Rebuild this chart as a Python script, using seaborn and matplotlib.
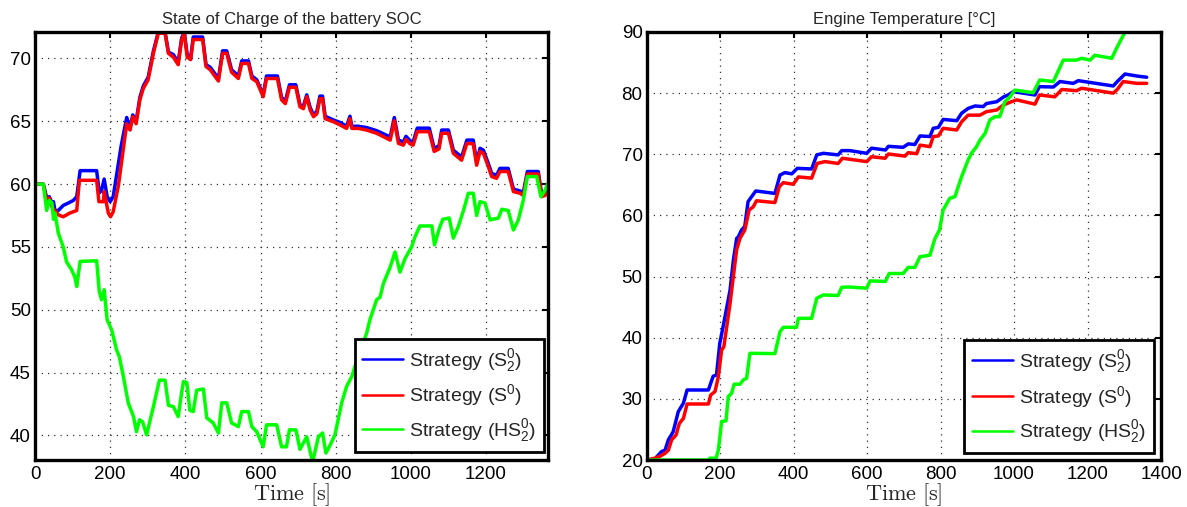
import numpy as np
import pandas as pd
import matplotlib
matplotlib.use("Agg")
import matplotlib.pyplot as plt
import seaborn as sns

# ---- State of charge data ----
soc_t_s2 = [0, 22, 31, 38, 45, 49, 53, 62, 75, 89, 102, 111, 120, 164, 171, 177, 184, 192, 200, 208, 219, 229, 244,
            253, 260, 269, 279, 288, 301, 315, 328, 346, 355, 368, 381, 390, 397, 405, 414, 421, 446, 455, 466, 488,
            499, 510, 523, 541, 550, 568, 577, 590, 607, 616, 645, 656, 666, 677, 694, 705, 714, 723, 732, 741, 750,
            758, 765, 772, 794, 812, 829, 838, 843, 860, 882, 909, 927, 945, 956, 967, 980, 987, 998, 1006, 1017,
            1049, 1062, 1075, 1082, 1100, 1113, 1135, 1149, 1166, 1175, 1184, 1193, 1206, 1215, 1228, 1237, 1259,
            1273, 1291, 1299, 1310, 1339, 1348, 1357, 1362]
soc_s2 = [60, 60, 58.9, 59.0, 58.5, 58.6, 57.9, 57.9, 58.3, 58.5, 58.7, 59.0, 61.07, 61.07, 59.3, 59.5, 60.4, 59.0,
          58.6, 59.0, 61.1, 63.0, 65.3,
          64.5, 65.5, 65.0, 66.9, 67.8, 68.5, 70.6, 72.1, 72.1, 70.5, 70.3, 69.7, 71.6, 72.1, 70.3, 70.0, 71.7, 71.7,
          69.5, 69.3, 68.4, 70.6, 70.6, 69.1, 68.6, 69.8, 69.8, 68.6, 68.3, 67.1, 68.6, 68.6, 66.9, 66.6, 67.9, 67.9,
          66.3, 66.2, 67.1, 66.1, 65.5, 65.8, 67.0, 67.0, 65.4, 65.1, 64.9, 64.6, 65.4, 64.6, 64.6, 64.5, 64.25,
          64.0, 63.75, 65.3, 63.5, 63.35, 63.8, 63.45, 63.35, 64.45, 64.45, 62.85, 63.05, 64.3, 64.3, 62.7, 62.15,
          63.5, 63.5, 61.75, 62.85, 62.7, 61.65, 60.85, 60.7, 61.25, 61.25, 59.6, 59.45, 59.3, 61.0, 61.0, 59.2,
          59.3, 59.4]

soc_t_s0 = [0, 22, 31, 38, 45, 53, 62, 75, 93, 111, 118, 164, 170, 182, 184, 195, 201, 208, 222, 231, 244,
            253, 260, 269, 279, 288, 301, 315, 328, 346, 355, 368, 381, 390, 397, 405, 414, 421, 446, 455, 466, 488,
            499, 510, 523, 541, 550, 568, 577, 590, 607, 616, 645, 656, 666, 677, 694, 705, 714, 723, 732, 741, 750,
            758, 765, 772, 794, 812, 829, 838, 843, 860, 882, 909, 927, 945, 956, 967, 980, 987, 998, 1006, 1017,
            1049, 1062, 1075, 1082, 1100, 1113, 1135, 1149, 1166, 1175, 1184, 1193, 1206, 1215, 1228, 1237, 1259,
            1273, 1291, 1299, 1310, 1339, 1348, 1357, 1362]
soc_s0 = [60, 60, 58.7, 58.9, 58.2, 57.9, 57.55, 57.4, 57.7, 57.9, 60.3, 60.3, 58.6, 58.6, 59.4, 57.7, 57.4, 57.8,
          59.9, 61.9, 64.8,
          64.3, 65.36, 64.8, 66.7, 67.6, 68.3, 70.4, 72.0, 72.0, 70.4, 70.1, 69.5, 71.45, 72.0, 70.1, 69.9, 71.5,
          71.5, 69.35, 69.1, 68.2, 70.4, 70.4, 68.9, 68.4, 69.6, 69.6, 68.4, 68.15, 66.95, 68.4, 68.4, 66.7, 66.4,
          67.7, 67.7, 66.15, 66.0, 66.95, 65.9, 65.36, 65.6, 66.8, 66.8, 65.2, 64.96, 64.7, 64.43, 65.2, 64.43,
          64.43, 64.3, 64.04, 63.77, 63.5, 65.04, 63.24, 63.1, 63.56, 63.2, 63.1, 64.17, 64.17, 62.6, 62.8, 64.04,
          64.04, 62.45, 61.9, 63.24, 63.2, 61.5, 62.6, 62.45, 61.4, 60.6, 60.46, 61.0, 61.0, 59.4, 59.27, 59.1,
          60.8, 60.8, 59.0, 59.1, 59.3]

soc_t_hs2 = [0, 22, 31, 38, 45, 49, 53, 62, 75, 84, 97, 106, 111, 120, 164, 171, 177, 184, 192, 204, 217, 224, 235,
             248, 262, 270, 278, 286, 297, 315, 331, 346, 355, 368, 381, 390, 395, 404, 412, 421, 430, 448, 457, 474,
             488, 497, 510, 523, 541, 550, 568, 577, 590, 607, 616, 643, 656, 669, 677, 694, 705, 723, 736, 740, 754,
             765, 774, 783, 798, 816, 829, 843, 862, 882, 891, 909, 918, 927, 945, 958, 971, 985, 1002, 1011, 1024,
             1056, 1063, 1076, 1085, 1102, 1113, 1126, 1140, 1153, 1166, 1175, 1184, 1197, 1211, 1233, 1242, 1259,
             1273, 1286, 1299, 1310, 1335, 1346, 1357, 1365]
soc_hs2 = [60, 60, 57.9, 58.7, 58.5, 57.2, 57.7, 56.1, 55.0, 53.8, 53.2, 52.6, 51.85, 53.85, 53.9, 51.45, 50.8, 51.6,
           49.2, 48.4, 46.8, 46.3, 44.7, 42.6, 41.5, 40.3, 41.25, 41.1, 40.05, 42.3, 44.4, 44.4, 42.4, 42.3, 41.5,
           43.4, 44.3, 44.2, 42.0, 41.9, 43.6, 43.7, 41.4, 41.0, 40.2, 42.6, 42.6, 41.0, 40.7, 41.9, 41.9, 40.7,
           40.3, 39.1, 40.85, 40.85, 39.1, 39.1, 40.45, 40.45, 38.9, 39.9, 38.2, 38.07, 39.9, 40.2, 38.6, 39.1,
           40.05, 42.6, 43.9, 44.7, 46.5, 48.1, 49.2, 50.8, 51.0, 52.1, 53.4, 54.6, 53.0, 54.1, 55.0, 55.8, 56.67,
           56.67, 55.16, 56.5, 57.2, 57.3, 55.7, 56.6, 57.9, 59.27, 59.27, 57.5, 58.6, 58.5, 57.15, 57.3, 58.0,
           57.9, 56.35, 57.15, 58.7, 60.6, 60.6, 59.0, 59.5, 60.1]

# ---- Engine temperature data ----
tmp_t_s2 = [0, 22, 27, 41, 50, 59, 72, 86, 100, 110, 168, 174, 181, 190, 199, 208, 227, 236, 245, 248, 258, 267,
            276, 286, 297, 349, 363, 376, 395, 410, 449, 463, 481, 521, 531, 553, 599, 612, 650, 658, 698, 712, 730,
            744, 771, 780, 794, 807, 844, 857, 875, 894, 916, 925, 953, 972, 984, 998, 1057, 1069, 1107, 1125, 1161,
            1175, 1270, 1281, 1302, 1334, 1361]
tmp_s2 = [20, 20, 20.5, 21.4, 21.6, 23.3, 24.6, 27.9, 29.3, 31.45, 31.45, 32.5, 33.7, 33.9, 39.1, 41.8, 47.8, 52.7,
          56.26, 56.3, 57.6, 58.2, 62.25, 63.1, 64.0, 63.6, 66.6, 67.0, 66.8, 67.7, 67.6, 69.9, 70.16, 69.9, 70.6,
          70.6, 70.16, 71.0, 70.7, 71.3, 71.14, 71.7, 71.6, 73.0, 72.9, 74.25, 74.4, 75.7, 75.5, 76.7, 77.5, 77.9,
          77.8, 78.3, 78.6, 79.4, 79.7, 80.24, 79.7, 81.06, 81.0, 81.9, 81.6, 82.04, 81.17, 81.9, 83.13, 82.8, 82.6]

tmp_t_s0 = [0, 22, 36, 50, 59, 68, 80, 89, 100, 110, 168, 174, 186, 195, 204, 210, 227, 240, 245, 254, 267, 279,
            290, 299, 349, 361, 372, 399, 413, 449, 464, 485, 521, 533, 599, 612, 649, 658, 703, 712, 735, 744, 771,
            780, 794, 807, 844, 857, 875, 907, 925, 953, 971, 993, 1007, 1057, 1069, 1111, 1130, 1170, 1184, 1270,
            1281, 1297, 1334, 1361]
tmp_s0 = [20, 20.3, 20.6, 21.1, 21.6, 23.3, 24.1, 26.0, 26.8, 29.16, 29.16, 30.6, 31.2, 33.6, 38.0, 38.5, 45.6, 52.0,
          54.4, 56.26, 57.6, 60.9, 61.4, 62.4, 62.1, 64.7, 65.36, 65.1, 66.3, 66.1, 68.5, 68.8, 68.5, 69.35, 68.8,
          69.6, 69.35, 70.05, 69.7, 70.26, 70.1, 71.5, 71.25, 72.9, 73.0, 74.25, 73.97, 75.3, 76.4, 76.4, 76.97,
          77.25, 78.06, 78.6, 78.9, 78.2, 79.7, 79.4, 80.6, 80.4, 80.8, 80.0, 80.6, 81.9, 81.6, 81.6]

tmp_t_hs2 = [0, 168, 172, 189, 195, 204, 216, 222, 231, 238, 254, 263, 272, 281, 349, 363, 372, 408, 413, 449, 463,
             481, 521, 531, 549, 599, 608, 650, 660, 698, 712, 730, 744, 771, 785, 797, 807, 825, 839, 857, 875, 884,
             898, 907, 921, 934, 948, 961, 975, 989, 1002, 1052, 1070, 1107, 1134, 1170, 1184, 1207, 1220, 1266,
             1279, 1302, 1361]
tmp_hs2 = [20, 20, 20.3, 20.3, 21.6, 26.3, 26.4, 30.35, 30.9, 32.4, 32.4, 33.1, 33.36, 37.45, 37.4, 41.0, 41.7, 41.7,
           43.17, 43.17, 46.45, 47.0, 46.9, 48.25, 48.3, 48.1, 49.3, 49.2, 50.5, 50.5, 51.5, 51.5, 53.25, 53.5,
           56.26, 57.6, 60.9, 62.8, 63.07, 66.3, 69.07, 70.16, 71.25, 72.3, 73.4, 75.6, 76.15, 76.15, 78.6, 79.4,
           80.5, 80.07, 82.15, 81.9, 85.4, 85.4, 85.7, 85.4, 86.2, 85.7, 87.34, 90.0, 90.0]

labels = [r'Strategy ($\mathrm{S_2^0}$)', r'Strategy ($\mathrm{S^0}$)', r'Strategy ($\mathrm{HS_2^0}$)']
colors = ['#0000ff', '#ff0000', '#00ff00']

sns.set_style("white")
plt.rcParams['font.family'] = ['Liberation Sans', 'DejaVu Sans']
plt.rcParams['mathtext.fontset'] = 'custom'
plt.rcParams['mathtext.rm'] = 'Liberation Sans'
plt.rcParams['mathtext.it'] = 'Liberation Sans:italic'
plt.rcParams['mathtext.bf'] = 'Liberation Sans:bold'

fig = plt.figure(figsize=(11.87, 5.07), dpi=100)
ax1 = fig.add_axes([0.0295, 0.0927, 0.4322, 0.8442])
ax2 = fig.add_axes([0.5448, 0.0927, 0.4333, 0.8442])


def draw(ax, series):
    for (t, v), lab, c in zip(series, labels, colors):
        sns.lineplot(x=t, y=v, ax=ax, color=c, lw=2.5, label=lab, estimator=None, sort=False)


def style(ax, title, xticks, yticks, xlim, ylim, leg_anchor):
    ax.set_xlim(*xlim)
    ax.set_ylim(*ylim)
    ax.set_xticks(xticks)
    ax.set_yticks(yticks)
    ax.grid(True, color='#333333', linestyle=(0, (1, 4)), linewidth=0.9)
    for sp in ax.spines.values():
        sp.set_visible(True)
        sp.set_linewidth(2.4)
        sp.set_color('black')
    ax.tick_params(direction='in', length=4, width=1.5, top=True, right=True,
                   labelsize=13.5, colors='black')
    ax.tick_params(axis='x', pad=4)
    ax.tick_params(axis='y', pad=3)
    ax.set_title(title, fontsize=12, pad=6)
    ax.set_xlabel(r'$\mathrm{Time\ [s]}$', fontsize=16, math_fontfamily='cm', labelpad=-1)
    ax.set_ylabel('')
    leg = ax.legend(loc='lower right', bbox_to_anchor=leg_anchor, borderaxespad=0, fontsize=14,
                    frameon=True, fancybox=False, framealpha=1, edgecolor='black',
                    handlelength=2.1, labelspacing=0.45, borderpad=0.4, handletextpad=0.3)
    leg.get_frame().set_linewidth(2)
    for h in leg.get_lines():
        h.set_linewidth(1.8)


draw(ax1, [(soc_t_s2, soc_s2), (soc_t_s0, soc_s0), (soc_t_hs2, soc_hs2)])
style(ax1, 'State of Charge of the battery SOC', range(0, 1201, 200), range(40, 71, 5),
      (0, 1365), (38.05, 72.1), (0.992, 0.019))

draw(ax2, [(tmp_t_s2, tmp_s2), (tmp_t_s0, tmp_s0), (tmp_t_hs2, tmp_hs2)])
style(ax2, 'Engine Temperature [°C]', range(0, 1401, 200), range(20, 91, 10),
      (0, 1400), (20, 90), (0.986, 0.016))

fig.savefig('out.png', dpi=100)
